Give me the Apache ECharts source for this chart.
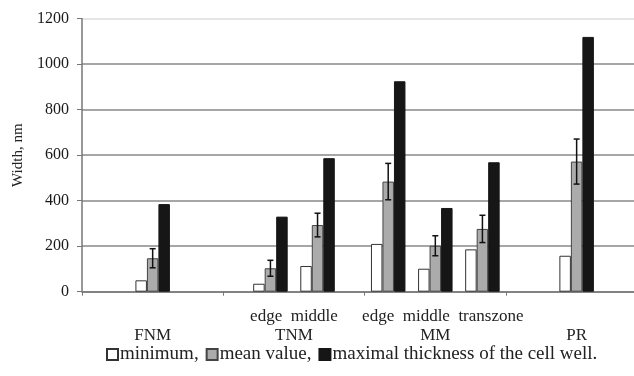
<!DOCTYPE html>
<html>
<head>
<meta charset="utf-8">
<script src="https://cdn.jsdelivr.net/npm/echarts@6/dist/echarts.min.js"></script>
<style>
html,body{margin:0;padding:0;background:#fff;overflow:hidden;width:634px;height:376px;}
#chart{width:670px;height:376px;}
</style>
</head>
<body>
<div id="chart"></div>
<script>
// ---- data ----
const majorCats = ['FNM', 'TNM', 'MM', 'PR'];
const subCats = [[''], ['edge', 'middle'], ['edge', 'middle', 'transzone'], ['']];
// one entry per sub-group, in order: FNM, TNM edge, TNM middle, MM edge, MM middle, MM transzone, PR
const minimum   = [50, 35, 113, 210, 101, 186, 158];
const meanValue = [147, 103, 293, 484, 202, 276, 572];
const meanError = [42, 35, 52, 80, 44, 60, 99];
const maximal   = [385, 330, 587, 925, 368, 569, 1120];
const seriesNames = ['minimum,', 'mean value,', 'maximal thickness of the cell well.'];
const yMin = 0, yMax = 1200, yStep = 200;

// ---- build a fine category axis from the group structure ----
const SLOTS = 6;
const fineCount = majorCats.length * SLOTS + 1;
const fineCats = new Array(fineCount).fill('');
const subIndex = [];
majorCats.forEach((m, g) => {
  const n = subCats[g].length;
  subCats[g].forEach((s, j) => {
    const idx = g * SLOTS + SLOTS / 2 + (2 * j - (n - 1));
    fineCats[idx] = (m + ' ' + s).trim();
    subIndex.push(idx);
  });
});
function spread(values) {
  const arr = new Array(fineCount).fill(null);
  values.forEach((v, k) => { arr[subIndex[k]] = v; });
  return arr;
}
const errData = meanValue.map((v, k) => [subIndex[k], v, meanError[k]]);

const serif = '"Liberation Serif", "Times New Roman", serif';
const chart = echarts.init(document.getElementById('chart'), null, {renderer: 'canvas'});
chart.setOption({
  animation: false,
  backgroundColor: '#fff',
  grid: {left: 82, top: 18.7, width: 565.3, height: 273, containLabel: false},
  legend: {
    data: seriesNames,
    left: 101, top: 340,
    itemWidth: 11, itemHeight: 11, itemGap: 7,
    icon: 'rect',
    textStyle: {fontFamily: serif, fontSize: 19, color: '#222', padding: [0, 0, 0, -3]}
  },
  xAxis: {
    type: 'category',
    data: fineCats,
    boundaryGap: false,
    axisLine: {lineStyle: {color: '#777', width: 1.5}},
    axisTick: {
      interval: (i) => i % SLOTS === 0,
      length: 4,
      lineStyle: {color: '#777', width: 1}
    },
    splitLine: {show: false},
    axisLabel: {
      interval: (i) => i % SLOTS === SLOTS / 2,
      margin: 15,
      formatter: (val, i) => {
        const g = Math.round((i - SLOTS / 2) / SLOTS);
        const subs = subCats[g].filter(s => s).join('  ');
        const first = subs ? (g === 2 ? '{s2|' + subs + '}' : '{s|' + subs + '}') : '{s| }';
        return first + '\n{m|' + majorCats[g] + '}';
      },
      rich: {
        s: {fontFamily: serif, fontSize: 17, color: '#222', lineHeight: 19},
        s2: {fontFamily: serif, fontSize: 17, color: '#222', lineHeight: 19, padding: [0, 0, 0, 15]},
        m: {fontFamily: serif, fontSize: 17, color: '#222', lineHeight: 20}
      }
    }
  },
  yAxis: {
    type: 'value',
    min: yMin, max: yMax, interval: yStep,
    name: 'Width, nm',
    nameLocation: 'middle',
    nameRotate: 90,
    nameGap: 56,
    nameTextStyle: {fontFamily: serif, fontSize: 15, color: '#222'},
    axisLine: {show: true, lineStyle: {color: '#777', width: 1.5}},
    axisTick: {show: true, length: 5, lineStyle: {color: '#777'}},
    axisLabel: {fontFamily: serif, fontSize: 16, color: '#1a1a1a', margin: 13, formatter: (v) => String(v)},
    splitLine: {lineStyle: {color: ['#888', '#888', '#888', '#888', '#888', '#888', '#ddd'], width: 1.5}}
  },
  series: [
    {
      name: seriesNames[0], type: 'bar', data: spread(minimum),
      barWidth: 11.5, barGap: '0%',
      itemStyle: {color: '#fff', borderColor: '#333', borderWidth: 1}
    },
    {
      name: seriesNames[1], type: 'bar', data: spread(meanValue),
      barWidth: 11.5, barGap: '0%',
      itemStyle: {color: '#ababab', borderColor: '#444', borderWidth: 1}
    },
    {
      name: seriesNames[2], type: 'bar', data: spread(maximal),
      barWidth: 11.5, barGap: '0%',
      itemStyle: {color: '#161616', borderColor: '#161616', borderWidth: 1}
    },
    {
      name: 'error', type: 'custom', data: errData, z: 10,
      encode: {x: 0, y: 1},
      renderItem: (params, api) => {
        const x = api.value(0), m = api.value(1), e = api.value(2);
        const top = api.coord([x, m + e]);
        const bot = api.coord([x, m - e]);
        const c = 3;
        const st = {stroke: '#111', lineWidth: 1.5};
        return {
          type: 'group',
          children: [
            {type: 'line', shape: {x1: top[0], y1: top[1], x2: bot[0], y2: bot[1]}, style: st},
            {type: 'line', shape: {x1: top[0] - c, y1: top[1], x2: top[0] + c, y2: top[1]}, style: st},
            {type: 'line', shape: {x1: bot[0] - c, y1: bot[1], x2: bot[0] + c, y2: bot[1]}, style: st}
          ]
        };
      }
    }
  ]
});
</script>
</body>
</html>
